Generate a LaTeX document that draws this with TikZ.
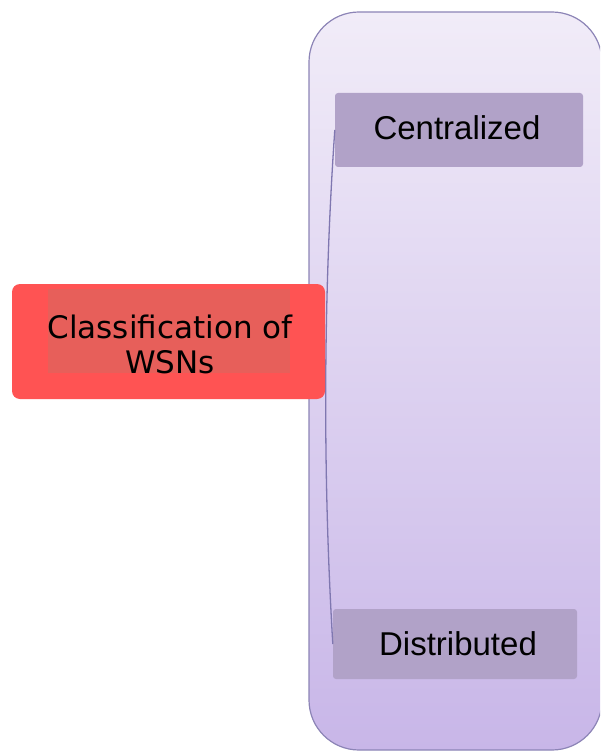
\documentclass[tikz,border=0pt]{standalone}
\usepackage{fontspec}
\setmainfont{Liberation Sans}
\newfontfamily\verd{DejaVu Sans}
\definecolor{redbox}{HTML}{FF5353}
\definecolor{redin}{HTML}{E75F5A}
\definecolor{purbox}{HTML}{B1A2C8}
\definecolor{contop}{HTML}{F1ECF8}
\definecolor{conbot}{HTML}{C8B6E8}
\definecolor{conline}{HTML}{8C84B6}
\definecolor{linkcol}{HTML}{7F77B0}
\begin{document}
\begin{tikzpicture}[x=1pt,y=-1pt,
  leaf/.style={fill=purbox,rounded corners=3pt,inner sep=0pt},
  leaftext/.style={font=\fontsize{33}{38}\selectfont,text=black,anchor=base,inner sep=0pt},
  link/.style={draw=linkcol,line width=1.3pt}]
\useasboundingbox (0,0) rectangle (600,751);
\begin{scope}
\clip (0,0) rectangle (600,751);
\shade[top color=contop,bottom color=conbot,draw=conline,line width=1.2pt,rounded corners=50pt]
  (309,12) rectangle (602,750);
\end{scope}
\node[leaf,minimum width=248pt,minimum height=74pt] (cent) at (459,130) {};
\node[leaftext] (centt) at (457,140) {Centralized};
\node[leaf,minimum width=244pt,minimum height=70pt] (dist) at (455,644) {};
\node[leaftext] (distt) at (458,655) {Distributed};
\draw[link] (cent.west) .. controls (323,300) and (323,480) .. (dist.west);
\node[fill=redbox,rounded corners=8pt,minimum width=313pt,minimum height=115pt,inner sep=0pt] (root) at (168.5,341.5) {};
\node[fill=redin,minimum width=242pt,minimum height=84pt,inner sep=0pt] (rootin) at (169,331) {};
\node[font=\verd\fontsize{31}{35}\selectfont,align=center,anchor=base,inner sep=0pt] (roott) at (170,373) {Classification of\\WSNs};
\end{tikzpicture}
\end{document}
